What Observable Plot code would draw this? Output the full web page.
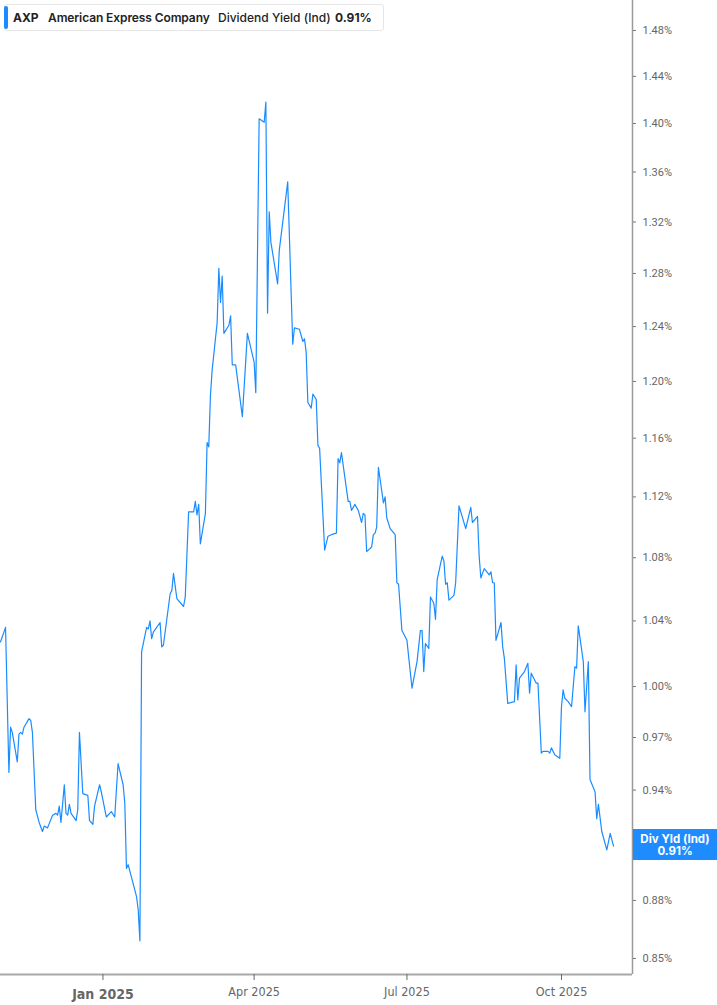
<!DOCTYPE html>
<html>
<head>
<meta charset="utf-8">
<script src="https://cdn.jsdelivr.net/npm/d3@7"></script>
<script src="https://cdn.jsdelivr.net/npm/@observablehq/plot@0.6"></script>
<style>
  html, body { margin: 0; padding: 0; background: #fff; }
  #wrap { position: relative; width: 717px; height: 1005px; overflow: hidden; }
  #wrap svg { position: absolute; left: 0; top: 0; }
  .legend { position: absolute; left: 4px; top: 4px; width: 380px; height: 27px; box-sizing: border-box;
            border: 1px solid #e6e6e6; border-radius: 3px; background: #fff;
            font-family: Inter, "Noto Sans", sans-serif; font-size: 12px; color: #222; }
  .legend .bar { position: absolute; left: -1px; top: 1px; width: 4px; height: 23px; background: #1a8cff; border-radius: 2px; }
  .legend span { position: absolute; top: 6px; white-space: nowrap; line-height: 14px; }
  .lastlab { position: absolute; left: 633px; width: 84px; height: 31px; background: #1e8cff; color: #fff;
             font-family: Inter, "Noto Sans", sans-serif; font-weight: 700; font-size: 11.5px; text-align: center;
             line-height: 12px; box-sizing: border-box; padding-top: 3.5px; }
</style>
</head>
<body>
<div id="wrap"></div>
<script>
// ---- data (dividend yield, %) ----
const dates = [
"2024-11-01","2024-11-04","2024-11-06","2024-11-07","2024-11-08","2024-11-11","2024-11-12","2024-11-13","2024-11-14","2024-11-15","2024-11-18","2024-11-19","2024-11-20","2024-11-22","2024-11-24","2024-11-26","2024-11-27","2024-11-29",
"2024-12-02","2024-12-04","2024-12-05","2024-12-06","2024-12-07","2024-12-09","2024-12-10","2024-12-11","2024-12-12","2024-12-13","2024-12-16","2024-12-17","2024-12-18","2024-12-20","2024-12-23","2024-12-24","2024-12-26","2024-12-27","2024-12-30","2024-12-31",
"2025-01-03","2025-01-06","2025-01-08","2025-01-10","2025-01-13","2025-01-14","2025-01-15","2025-01-16","2025-01-21","2025-01-22","2025-01-23","2025-01-24","2025-01-27","2025-01-28","2025-01-29","2025-01-30","2025-01-31",
"2025-02-04","2025-02-05","2025-02-06","2025-02-10","2025-02-11","2025-02-12","2025-02-14","2025-02-18","2025-02-19","2025-02-21","2025-02-24","2025-02-25","2025-02-26","2025-02-27","2025-02-28",
"2025-03-03","2025-03-04","2025-03-05","2025-03-06","2025-03-07","2025-03-10","2025-03-11","2025-03-12","2025-03-13","2025-03-14","2025-03-17","2025-03-18","2025-03-19","2025-03-21","2025-03-25","2025-03-28",
"2025-04-01","2025-04-02","2025-04-04","2025-04-07","2025-04-08","2025-04-09","2025-04-10","2025-04-11","2025-04-15","2025-04-16","2025-04-21","2025-04-24","2025-04-25","2025-04-28","2025-04-30",
"2025-05-01","2025-05-02","2025-05-03","2025-05-05","2025-05-06","2025-05-08","2025-05-09","2025-05-10","2025-05-13","2025-05-15","2025-05-17","2025-05-20","2025-05-21","2025-05-22","2025-05-23","2025-05-27","2025-05-28","2025-05-29","2025-05-31",
"2025-06-02","2025-06-04","2025-06-05","2025-06-06","2025-06-07","2025-06-10","2025-06-11","2025-06-12","2025-06-13","2025-06-14","2025-06-17","2025-06-18","2025-06-19","2025-06-21","2025-06-24","2025-06-25","2025-06-26","2025-06-28",
"2025-07-01","2025-07-04","2025-07-07","2025-07-09","2025-07-10","2025-07-11","2025-07-12","2025-07-14","2025-07-15","2025-07-17","2025-07-18","2025-07-19","2025-07-22","2025-07-23","2025-07-24","2025-07-25","2025-07-26","2025-07-29","2025-07-30",
"2025-08-01","2025-08-05","2025-08-08","2025-08-09","2025-08-12","2025-08-13","2025-08-14","2025-08-16","2025-08-19","2025-08-20","2025-08-21","2025-08-22","2025-08-23","2025-08-26","2025-08-27","2025-08-28","2025-08-30",
"2025-09-03","2025-09-04","2025-09-05","2025-09-06","2025-09-09","2025-09-11","2025-09-12","2025-09-13","2025-09-16","2025-09-17","2025-09-19","2025-09-20","2025-09-23","2025-09-24","2025-09-25","2025-09-27","2025-09-30",
"2025-10-01","2025-10-02","2025-10-03","2025-10-05","2025-10-07","2025-10-09","2025-10-10","2025-10-11","2025-10-14","2025-10-15","2025-10-17","2025-10-18","2025-10-21","2025-10-22","2025-10-23","2025-10-25","2025-10-28","2025-10-30","2025-11-01"
];
const yieldPct = [
1.027,1.036,0.950,0.976,0.973,0.956,0.972,0.973,0.972,0.976,0.981,0.980,0.973,0.929,0.922,0.917,0.920,0.919,
0.926,0.927,0.926,0.931,0.922,0.943,0.927,0.926,0.932,0.927,0.923,0.929,0.973,0.938,0.937,0.923,0.921,0.931,0.943,0.939,
0.925,0.928,0.925,0.955,0.943,0.933,0.897,0.899,0.882,0.875,0.859,1.021,1.036,1.035,1.040,1.029,1.033,
1.039,1.024,1.025,1.057,1.059,1.070,1.054,1.049,1.055,1.110,1.110,1.117,1.108,1.115,1.089,
1.109,1.157,1.154,1.190,1.208,1.243,1.284,1.258,1.278,1.235,1.241,1.248,1.212,1.212,1.175,1.235,
1.214,1.192,1.404,1.401,1.418,1.250,1.328,1.304,1.272,1.298,1.352,1.227,1.239,1.238,1.229,
1.231,1.221,1.185,1.181,1.191,1.187,1.155,1.153,1.085,1.094,1.095,1.096,1.146,1.143,1.150,1.117,1.117,1.111,1.115,
1.111,1.103,1.109,1.108,1.084,1.087,1.095,1.096,1.100,1.140,1.116,1.120,1.106,1.099,1.095,1.064,1.063,1.034,
1.028,0.999,1.015,1.034,1.034,1.009,1.026,1.023,1.055,1.051,1.041,1.066,1.081,1.078,1.063,1.064,1.053,1.056,1.064,
1.114,1.099,1.113,1.103,1.107,1.081,1.067,1.073,1.069,1.071,1.064,1.064,1.028,1.039,1.024,1.017,0.990,
0.991,1.013,0.992,1.005,1.009,1.014,0.996,1.008,1.002,1.002,0.961,0.962,0.962,0.961,0.964,0.960,0.958,
0.988,0.998,0.993,0.991,0.988,1.012,1.011,1.037,1.015,0.985,1.015,0.946,0.939,0.924,0.932,0.917,0.907,0.916,0.909
];
const yTicks = [0.85,0.88,0.91,0.94,0.97,1.00,1.04,1.08,1.12,1.16,1.20,1.24,1.28,1.32,1.36,1.40,1.44,1.48];
const xTickBold = ["2025-01-01"];
const xTicksOther = ["2025-04-01","2025-07-01","2025-10-01"];
const xDomain = ["2024-11-01T00:00Z","2025-11-12T07:00Z"];
const yDomain = [0.8419, 1.5068];
const ticker = "AXP", company = "American Express Company", metric = "Dividend Yield (Ind)", lastLabel = "Div Yld (Ind)";

const data = dates.map((d, i) => ({date: new Date(d + "T00:00Z"), value: yieldPct[i]}));
const fmtPct = d => d.toFixed(2) + "%";
const xDom = xDomain.map(d => new Date(d));
const last = data[data.length - 1];
const lastRounded = Math.round(last.value * 100) / 100;
const narrow = "'Liberation Sans Narrow', 'DejaVu Sans Condensed', sans-serif";
// the tick label at the last value sits under the blue value box
const labelTicks = yTicks.filter(t => Math.abs(t - lastRounded) > 1e-9);

const chart = Plot.plot({
  width: 717,
  height: 1005,
  marginLeft: 0,
  marginRight: 85,
  marginTop: 0,
  marginBottom: 31,
  style: {background: "#fff", overflow: "visible"},
  x: {type: "utc", domain: xDom},
  y: {type: "log", domain: yDomain},
  marks: [
    Plot.lineY(data, {x: "date", y: "value", stroke: "#1a8cff", strokeWidth: 1.2}),
    Plot.ruleX([xDom[1]], {stroke: "#9a9a9a", strokeWidth: 1.5}),
    Plot.ruleY([yDomain[0]], {stroke: "#a8a8a8", strokeWidth: 2}),
    Plot.axisY({anchor: "right", ticks: yTicks, tickSize: 3, text: null, color: "#777", label: null}),
    // y tick labels (drawn as text so the log scale does not thin them out)
    Plot.text(labelTicks, {x: xDom[1], y: d => d, text: fmtPct, dx: 10, textAnchor: "start",
                       fontSize: 11, fontFamily: "Roboto, sans-serif", fill: "#666"}),
    Plot.axisX({ticks: xTicksOther.map(d => new Date(d + "T00:00Z")), tickFormat: d3.utcFormat("%b %Y"),
                tickSize: 6, tickPadding: 7, fontSize: 12.5, fontFamily: narrow, color: "#666", label: null}),
    Plot.axisX({ticks: xTickBold.map(d => new Date(d + "T00:00Z")), tickFormat: d3.utcFormat("%b %Y"),
                tickSize: 6, tickPadding: 9, fontSize: 14, fontWeight: "bold", fontFamily: narrow,
                color: "#666", label: null})
  ]
});

const wrap = document.getElementById("wrap");
wrap.appendChild(chart);

// legend box
const lg = document.createElement("div");
lg.className = "legend";
lg.innerHTML = `<div class="bar"></div>
  <span style="left:8px;font-weight:700">${ticker}</span>
  <span style="left:43px;font-weight:600;letter-spacing:-0.1px">${company}</span>
  <span style="left:213px;font-weight:500">${metric}</span>
  <span style="left:330px;font-weight:700">${fmtPct(lastRounded)}</span>`;
wrap.appendChild(lg);

// last value label on the y axis
const yPix = chart.scale("y").apply(lastRounded);
const lab = document.createElement("div");
lab.className = "lastlab";
lab.style.top = (yPix - 14.5) + "px";
lab.innerHTML = `${lastLabel}<br>${fmtPct(lastRounded)}`;
wrap.appendChild(lab);
</script>
</body>
</html>
